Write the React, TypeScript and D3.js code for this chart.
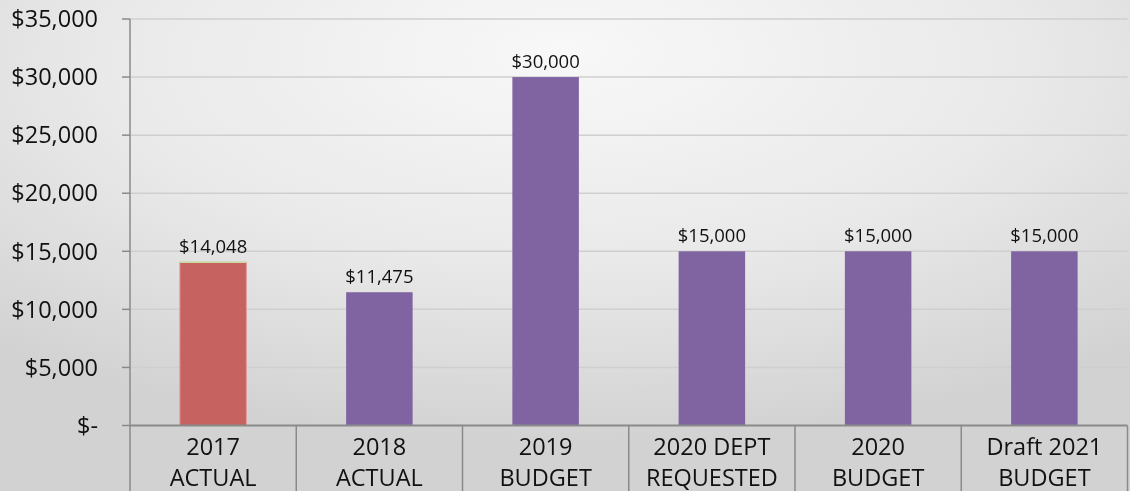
import React from "react";
import * as d3 from "d3";

const categories = ["2017 ACTUAL", "2018 ACTUAL", "2019 BUDGET", "2020 DEPT REQUESTED", "2020 BUDGET", "Draft 2021 BUDGET"];
const categoryLines = [["2017", "ACTUAL"], ["2018", "ACTUAL"], ["2019", "BUDGET"], ["2020 DEPT", "REQUESTED"], ["2020", "BUDGET"], ["Draft 2021", "BUDGET"]];
const values = [14048, 11475, 30000, 15000, 15000, 15000];
const barColors = ["#c6625f", "#8064a2", "#8064a2", "#8064a2", "#8064a2", "#8064a2"];
const yTicks = [0, 5000, 10000, 15000, 20000, 25000, 30000, 35000];

const W = 1130, H = 491;
const left = 130, right = 1127.5, top = 19, zeroY = 425.5;
const font = "'Open Sans', sans-serif";

function fmtTick(v: number) {
  return v === 0 ? "$-" : "$" + d3.format(",")(v);
}

export default function App() {
  const x = d3.scaleBand<string>().domain(categories).range([left, right]).paddingInner(0).paddingOuter(0);
  const y = d3.scaleLinear().domain([0, 35000]).range([zeroY, top]);
  const bw = x.bandwidth() * 0.4;

  return (
    <div style={{ position: "fixed", left: 0, top: 0 }}>
      <svg width={W} height={H} style={{ display: "block" }}>
        <defs>
          <radialGradient id="bg" cx="50%" cy="15%" r="75%" fx="50%" fy="10%">
            <stop offset="0%" stopColor="#f8f8f8" />
            <stop offset="55%" stopColor="#e9e9e9" />
            <stop offset="100%" stopColor="#d2d2d2" />
          </radialGradient>
        </defs>
        <rect x={0} y={0} width={W} height={H} fill="url(#bg)" />
        {/* gridlines */}
        {yTicks.filter((t) => t !== 0).map((t) => (
          <line key={t} x1={left} x2={right} y1={y(t)} y2={y(t)} stroke="#cfcfcf" strokeWidth={1.5} />
        ))}
        {/* bars */}
        {values.map((v, i) => {
          const cx = (x(categories[i]) as number) + x.bandwidth() / 2;
          const bx = cx - bw / 2;
          return (
            <g key={i}>
              <rect x={bx} y={y(v)} width={bw} height={zeroY - y(v)} fill={barColors[i]} stroke={i === 0 ? "#e69a98" : "none"} strokeWidth={i === 0 ? 1 : 0} />
              {i === 0 && <line x1={bx} x2={bx + bw} y1={y(v)} y2={y(v)} stroke="#c9dca0" strokeWidth={1.5} />}
              <text x={cx} y={y(v) - 9} textAnchor="middle" fontFamily={font} fontSize={18.5} fill="#111">
                {"$" + d3.format(",")(v)}
              </text>
            </g>
          );
        })}
        {/* y axis */}
        <line x1={left} x2={left} y1={top} y2={H} stroke="#8a8a8a" strokeWidth={1.5} />
        {yTicks.map((t) => (
          <g key={t}>
            <line x1={left - 8} x2={left} y1={y(t)} y2={y(t)} stroke="#8a8a8a" strokeWidth={1.5} />
            <text x={98} y={y(t)} dy="0.35em" textAnchor="end" fontFamily={font} fontSize={23.5} fill="#111">
              {fmtTick(t)}
            </text>
          </g>
        ))}
        {/* category axis */}
        <line x1={left} x2={right} y1={zeroY} y2={zeroY} stroke="#8a8a8a" strokeWidth={2} />
        {categories.map((c, i) => {
          const x0 = x(c) as number;
          const cx = x0 + x.bandwidth() / 2;
          return (
            <g key={c}>
              <line x1={x0 + x.bandwidth()} x2={x0 + x.bandwidth()} y1={zeroY} y2={H} stroke="#8a8a8a" strokeWidth={1.5} />
              {categoryLines[i].map((ln, j) => (
                <text key={j} x={cx} y={455 + j * 31} textAnchor="middle" fontFamily={font} fontSize={23.5} fill="#111">
                  {ln}
                </text>
              ))}
            </g>
          );
        })}
      </svg>
    </div>
  );
}
